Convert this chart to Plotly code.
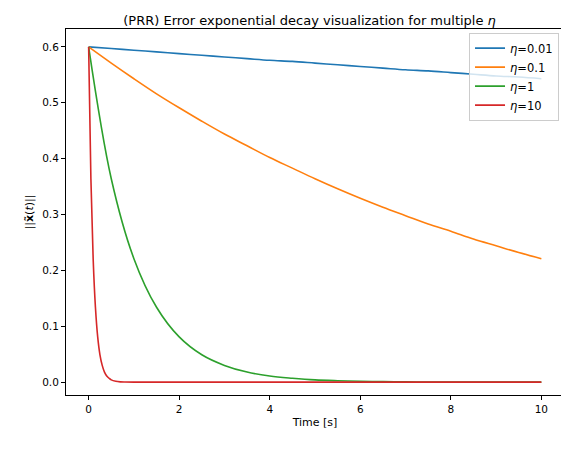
import plotly.graph_objects as go

# time samples (s)
t = [0, 0.5, 1, 1.5, 2, 2.5, 3, 3.5, 4, 4.5, 5, 5.5, 6, 6.5, 7, 7.5, 8, 8.5, 9, 9.5, 10]
t_fast = [0, 0.05, 0.1, 0.15, 0.2, 0.25, 0.3, 0.35, 0.4, 0.45, 0.5, 0.6, 0.7, 0.8, 1, 10]

err_001 = [0.6, 0.597, 0.594, 0.591, 0.588, 0.585, 0.582, 0.579, 0.576, 0.574, 0.571,
           0.568, 0.565, 0.562, 0.559, 0.557, 0.554, 0.551, 0.548, 0.546, 0.543]
err_01 = [0.6, 0.571, 0.543, 0.516, 0.491, 0.467, 0.444, 0.423, 0.402, 0.383, 0.364,
          0.346, 0.329, 0.313, 0.298, 0.283, 0.270, 0.256, 0.244, 0.232, 0.221]
err_1 = [0.6, 0.364, 0.221, 0.134, 0.081, 0.049, 0.030, 0.018, 0.011, 0.007, 0.004,
         0.0025, 0.0015, 0.0009, 0.0005, 0.0003, 0.0002, 0.0001, 0.0001, 0.0, 0.0]
err_10 = [0.6, 0.364, 0.221, 0.134, 0.081, 0.049, 0.030, 0.018, 0.011, 0.007, 0.004,
          0.0015, 0.0005, 0.0002, 0.0, 0.0]

series = [
    ("<i>η</i>=0.01", t, err_001, "#1f77b4"),
    ("<i>η</i>=0.1", t, err_01, "#ff7f0e"),
    ("<i>η</i>=1", t, err_1, "#2ca02c"),
    ("<i>η</i>=10", t_fast, err_10, "#d62728"),
]

fig = go.Figure()
for name, x, y, color in series:
    fig.add_trace(go.Scatter(x=x, y=y, mode="lines", name=name,
                             line=dict(color=color, width=1.6, shape="spline", smoothing=1.0)))

axis_style = dict(showgrid=False, zeroline=False, showline=True, mirror=True,
                  linecolor="black", linewidth=1, ticks="outside", ticklen=4,
                  tickcolor="black", tickfont=dict(size=10.5, color="black"))

fig.update_layout(
    width=569, height=454,
    margin=dict(l=58, r=13, t=21, b=67),
    plot_bgcolor="white", paper_bgcolor="white",
    font=dict(family="DejaVu Sans", color="black"),
    title=dict(text="(PRR) Error exponential decay visualization for multiple <i>η</i>",
               x=0.53, xanchor="center", y=0.972, yanchor="middle", font=dict(size=13)),
    xaxis=dict(range=[-0.5, 10.5], tickvals=[0, 2, 4, 6, 8, 10],
               title=dict(text="Time [s]", font=dict(size=11), standoff=4), **axis_style),
    yaxis=dict(range=[-0.023, 0.632], tickvals=[0, 0.1, 0.2, 0.3, 0.4, 0.5, 0.6],
               tickformat=".1f",
               title=dict(text="||<b>x̃</b>(<i>t</i>)||", font=dict(size=11), standoff=6), **axis_style),
    legend=dict(x=0.99, y=0.99, xanchor="right", yanchor="top",
                bordercolor="#cccccc", borderwidth=1, bgcolor="rgba(255,255,255,0.8)",
                font=dict(size=11.5)),
)

fig.write_html("out.html")
